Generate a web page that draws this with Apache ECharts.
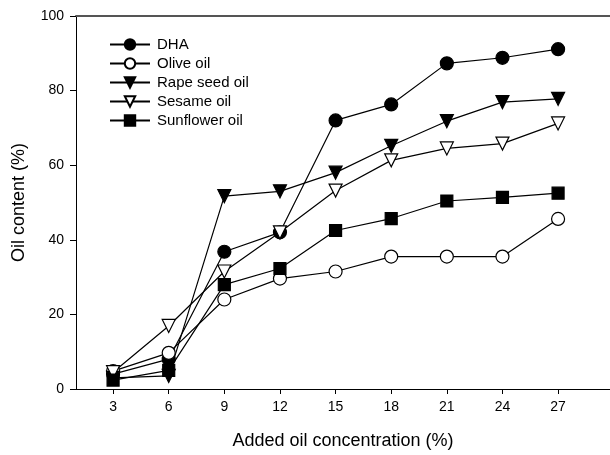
<!DOCTYPE html>
<html>
<head>
<meta charset="utf-8">
<script src="https://cdn.jsdelivr.net/npm/echarts@6/dist/echarts.min.js"></script>
<style>
  html, body { margin: 0; padding: 0; background: #fff; }
  #chart { width: 610px; height: 455px; }
</style>
</head>
<body>
<div id="chart"></div>
<script>
// Added oil concentration (%)
const concentrations = [3, 6, 9, 12, 15, 18, 21, 24, 27];

// Oil content (%) for each oil source
const dha       = [4.0, 8.0, 36.8, 42.0, 72.0, 76.3, 87.3, 88.8, 91.1];
const oliveOil  = [4.8, 9.7, 24.0, 29.6, 31.5, 35.5, 35.5, 35.5, 45.6];
const rapeSeed  = [3.0, 3.5, 51.7, 53.0, 58.0, 65.2, 71.8, 76.9, 77.8];
const sesameOil = [4.5, 16.9, 31.5, 42.0, 53.2, 61.3, 64.5, 65.8, 71.2];
const sunflower = [2.4, 5.0, 28.0, 32.3, 42.5, 45.7, 50.4, 51.4, 52.5];

const xTicks = [3, 6, 9, 12, 15, 18, 21, 24, 27];

const seriesDefs = [
  { name: 'DHA',            data: dha,       symbol: 'circle',   fill: '#000', rotate: 0 },
  { name: 'Olive oil',      data: oliveOil,  symbol: 'circle',   fill: '#fff', rotate: 0 },
  { name: 'Rape seed oil',  data: rapeSeed,  symbol: 'triangle', fill: '#000', rotate: 180 },
  { name: 'Sesame oil',     data: sesameOil, symbol: 'triangle', fill: '#fff', rotate: 180 },
  { name: 'Sunflower oil',  data: sunflower, symbol: 'rect',     fill: '#000', rotate: 0 }
];

const chart = echarts.init(document.getElementById('chart'), null, { renderer: 'canvas' });

const font = 'Liberation Sans, Arial, sans-serif';

chart.setOption({
  animation: false,
  backgroundColor: '#fff',
  grid: { left: 76, top: 16, right: 0, bottom: 65, containLabel: false },
  legend: {
    left: 104,
    top: 31,
    orient: 'vertical',
    itemWidth: 40,
    itemHeight: 13,
    itemGap: 2,
    textStyle: { fontFamily: font, fontSize: 15, lineHeight: 17, color: '#000', padding: [0, 0, 0, 2] },
    data: seriesDefs.map(s => s.name)
  },
  xAxis: [
    {
      type: 'value',
      min: 1,
      max: 29.8,
      name: 'Added oil concentration (%)',
      nameLocation: 'middle',
      nameGap: 43,
      nameTextStyle: { fontFamily: font, fontSize: 18, color: '#000' },
      axisLine: { onZero: false, lineStyle: { color: '#000', width: 1 } },
      axisTick: { show: true, inside: false, length: 5, customValues: xTicks, lineStyle: { color: '#000' } },
      axisLabel: { customValues: xTicks, margin: 11, fontFamily: font, fontSize: 14, color: '#000' },
      splitLine: { show: false }
    },
    {
      type: 'value',
      position: 'top',
      min: 1,
      max: 29.8,
      axisLine: { show: true, onZero: false, lineStyle: { color: '#555', width: 2 } },
      axisTick: { show: false },
      axisLabel: { show: false },
      splitLine: { show: false }
    }
  ],
  yAxis: {
    type: 'value',
    min: 0,
    max: 100,
    interval: 20,
    name: 'Oil content (%)',
    nameLocation: 'middle',
    nameGap: 48,
    nameTextStyle: { fontFamily: font, fontSize: 18, color: '#000' },
    axisLine: { show: true, onZero: false, lineStyle: { color: '#000', width: 1 } },
    axisTick: { show: true, inside: false, length: 6, lineStyle: { color: '#000' } },
    axisLabel: { margin: 12, fontFamily: font, fontSize: 14, color: '#000' },
    splitLine: { show: false }
  },
  series: seriesDefs.map(s => ({
    name: s.name,
    type: 'line',
    xAxisIndex: 0,
    data: concentrations.map((c, i) => [c, s.data[i]]),
    symbol: s.symbol,
    symbolSize: s.symbol === 'rect' ? 12 : 13,
    symbolRotate: s.rotate,
    showAllSymbol: true,
    lineStyle: { color: '#000', width: 1.2 },
    itemStyle: { color: s.fill, borderColor: '#000', borderWidth: 1.2 },
    emphasis: { disabled: true }
  }))
});
</script>
</body>
</html>
